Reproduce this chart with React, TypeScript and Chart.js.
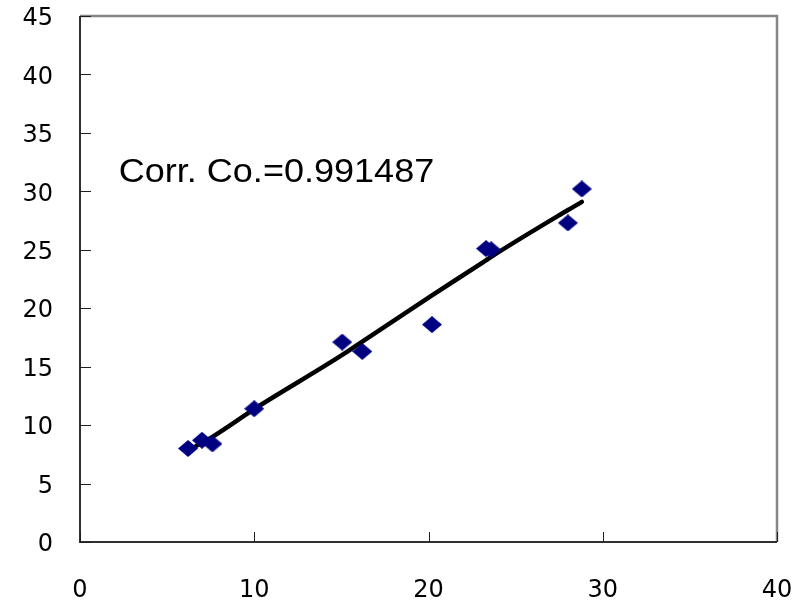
import React, { useEffect, useRef } from "react";
import { Chart, registerables } from "chart.js";

Chart.register(...registerables);

// Measured pairs (x, y)
const xValues = [6.2, 7.0, 7.6, 10.0, 15.05, 16.2, 20.2, 23.3, 23.6, 28.0, 28.8];
const yValues = [8.0, 8.7, 8.4, 11.4, 17.1, 16.3, 18.6, 25.1, 25.0, 27.3, 30.2];
// Fitted values at the same x positions
const fitValues = [7.8, 8.5, 9.0, 11.37, 16.0, 17.15, 21.1, 24.1, 24.4, 28.4, 29.1];

const xTicks = [0, 10, 20, 30, 40];
const yTicks = [0, 5, 10, 15, 20, 25, 30, 35, 40, 45];

const corrLabel = "Corr. Co.=0.991487";
const corrPos = { x: 2.22, y: 30.8 };

const TICK_FONT = { family: "'DejaVu Sans', sans-serif", size: 24 };

function makeDiamond(): HTMLCanvasElement {
  const c = document.createElement("canvas");
  const w = 20;
  const h = 17;
  c.width = w;
  c.height = h;
  const g = c.getContext("2d")!;
  g.fillStyle = "#000080";
  g.beginPath();
  g.moveTo(w / 2, 0);
  g.lineTo(w, h / 2);
  g.lineTo(w / 2, h);
  g.lineTo(0, h / 2);
  g.closePath();
  g.fill();
  return c;
}

const framePlugin = {
  id: "frame",
  beforeDatasetsDraw(chart: any) {
    const { ctx, chartArea: a, scales } = chart;
    const xs = scales.x;
    const ys = scales.y;
    ctx.save();
    // top and right border
    ctx.strokeStyle = "#878787";
    ctx.lineWidth = 2.5;
    ctx.beginPath();
    ctx.moveTo(a.left, a.top);
    ctx.lineTo(a.right, a.top);
    ctx.lineTo(a.right, a.bottom);
    ctx.stroke();
    // left and bottom axes
    ctx.strokeStyle = "#303030";
    ctx.lineWidth = 2;
    ctx.beginPath();
    ctx.moveTo(a.left, a.top);
    ctx.lineTo(a.left, a.bottom);
    ctx.lineTo(a.right, a.bottom);
    ctx.stroke();
    // inner tick marks
    ctx.lineWidth = 1;
    ctx.strokeStyle = "#202020";
    ctx.beginPath();
    for (const v of yTicks) {
      const py = Math.round(ys.getPixelForValue(v)) + 0.5;
      ctx.moveTo(a.left, py);
      ctx.lineTo(a.left + 11, py);
    }
    for (const v of xTicks) {
      const px = Math.round(xs.getPixelForValue(v)) + 0.5;
      ctx.moveTo(px, a.bottom);
      ctx.lineTo(px, a.bottom - 10);
    }
    ctx.stroke();
    ctx.restore();
  },
  afterDatasetsDraw(chart: any) {
    const { ctx, scales } = chart;
    ctx.save();
    ctx.fillStyle = "#000000";
    ctx.font = "34px 'Liberation Sans', Arial, sans-serif";
    ctx.textAlign = "left";
    ctx.textBaseline = "alphabetic";
    ctx.translate(scales.x.getPixelForValue(corrPos.x), scales.y.getPixelForValue(corrPos.y));
    ctx.scale(1.06, 1);
    ctx.fillText(corrLabel, 0, 0);
    ctx.restore();
  },
};

export default function App() {
  const canvasRef = useRef<HTMLCanvasElement | null>(null);

  useEffect(() => {
    const canvas = canvasRef.current;
    if (!canvas) return;
    const diamond = makeDiamond();
    const chart = new Chart(canvas, {
      type: "scatter",
      data: {
        datasets: [
          {
            label: "fit",
            data: xValues.map((x, i) => ({ x, y: fitValues[i] })),
            showLine: true,
            borderColor: "#000000",
            borderWidth: 4.5,
            borderCapStyle: "round",
            borderJoinStyle: "round",
            cubicInterpolationMode: "monotone",
            pointRadius: 0,
            order: 2,
          },
          {
            label: "data",
            data: xValues.map((x, i) => ({ x, y: yValues[i] })),
            pointStyle: diamond as any,
            pointRadius: 9,
            backgroundColor: "#000080",
            borderColor: "#000080",
            showLine: false,
            order: 1,
          },
        ],
      },
      options: {
        responsive: false,
        animation: false,
        layout: { padding: { top: 16, right: 26, left: 0, bottom: 0 } },
        plugins: {
          legend: { display: false },
          tooltip: { enabled: false },
        },
        scales: {
          x: {
            type: "linear",
            min: 0,
            max: 40,
            grid: { display: false, drawTicks: false },
            border: { display: false },
            afterFit: (s: any) => {
              s.height = 60;
              s.paddingLeft = 0;
              s.paddingRight = 0;
            },
            afterBuildTicks: (s: any) => {
              s.ticks = xTicks.map((v) => ({ value: v }));
            },
            ticks: {
              color: "#000000",
              font: TICK_FONT,
              padding: 34,
              maxRotation: 0,
            },
          },
          y: {
            type: "linear",
            min: 0,
            max: 45,
            grid: { display: false, drawTicks: false },
            border: { display: false },
            afterFit: (s: any) => {
              s.width = 80;
              s.paddingTop = 0;
              s.paddingBottom = 0;
            },
            afterBuildTicks: (s: any) => {
              s.ticks = yTicks.map((v) => ({ value: v }));
            },
            ticks: {
              color: "#000000",
              font: TICK_FONT,
              padding: 27,
              labelOffset: 3,
            },
          },
        },
      },
      plugins: [framePlugin],
    });
    return () => chart.destroy();
  }, []);

  return (
    <div style={{ position: "absolute", left: 0, top: 0, width: 803, height: 602, background: "#ffffff" }}>
      <canvas ref={canvasRef} width={803} height={602} />
    </div>
  );
}
